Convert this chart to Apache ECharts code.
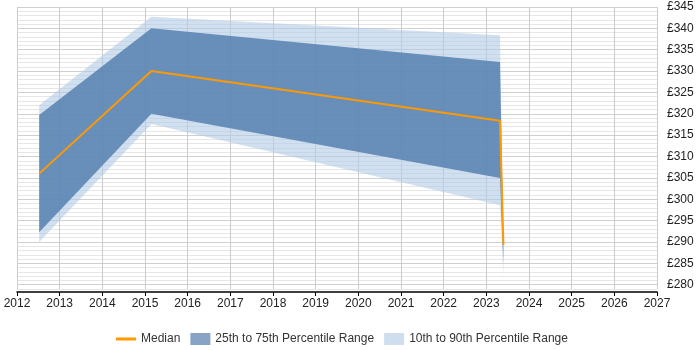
<!DOCTYPE html>
<html>
<head>
<meta charset="utf-8">
<script src="https://cdn.jsdelivr.net/npm/echarts@6/dist/echarts.min.js"></script>
<style>
html, body { margin: 0; padding: 0; background: #fff; }
#container { width: 700px; height: 350px; }
</style>
</head>
<body>
<div id="container"></div>
<script>
// dates as decimal years
var years = [2012.52, 2015.15, 2023.32, 2023.4];
var median = [306, 330, 318.4, 289.3];
var p25 = [292.3, 320, 305, 285];
var p75 = [319.7, 340, 332.1, 289.5];
var p10 = [290, 317.6, 298.6, 282];
var p90 = [322, 342.7, 338.4, 290];

function bandRows(lo, hi) {
    return years.map(function (x, i) { return [x, lo[i], hi[i]]; });
}

// one polygon per band, built from all rows through the axes
function bandRenderer(fill) {
    return function (params, api) {
        if (params.dataIndex !== 0) return;
        var top = [], bottom = [];
        for (var i = 0; i < years.length; i++) {
            var x = api.value(0, i), lo = api.value(1, i), hi = api.value(2, i);
            top.push(api.coord([x, hi]));
            bottom.unshift(api.coord([x, lo]));
        }
        return {
            type: 'polygon',
            shape: { points: top.concat(bottom) },
            style: { fill: fill }
        };
    };
}

var dom = document.getElementById("container");
var myChart = echarts.init(dom);

var option = {
    animation: false,
    grid: {
        left: 17,
        right: 43,
        top: 7,
        bottom: 61
    },
    legend: {
        left: 111,
        top: 328,
        itemGap: 10,
        itemWidth: 20,
        itemHeight: 12,
        textStyle: { fontFamily: 'Liberation Sans', fontSize: 12, color: '#333' },
        data: [
            { name: 'Median', icon: 'path://M0,0 L20,0 L20,3 L0,3 Z', itemStyle: { color: '#FF9900' } },
            { name: '25th to 75th Percentile Range', icon: 'rect', itemStyle: { color: '#87a4c6' } },
            { name: '10th to 90th Percentile Range', icon: 'rect', itemStyle: { color: '#cfdeee' } }
        ]
    },
    xAxis: {
        type: 'value',
        min: 2012,
        max: 2027,
        interval: 1,
        offset: 3,
        axisLine: { lineStyle: { color: '#000', width: 1.5 } },
        axisTick: { show: true, length: 4, lineStyle: { color: '#000' } },
        axisLabel: {
            fontFamily: 'Liberation Sans',
            fontSize: 12,
            color: '#222',
            margin: 6,
            formatter: function (v) { return String(v); }
        },
        splitLine: { show: true, lineStyle: { color: '#cccccc' } }
    },
    yAxis: {
        type: 'value',
        position: 'right',
        min: 279,
        max: 345,
        interval: 1,
        axisLine: { show: false },
        axisTick: { show: false },
        axisLabel: {
            fontFamily: 'Liberation Sans',
            fontSize: 12,
            color: '#222',
            margin: 10,
            formatter: function (v) {
                return v % 5 === 0 ? '£' + v : '';
            }
        },
        splitLine: {
            show: true,
            lineStyle: { color: ['#e6e6e6', '#cfcfcf', '#e6e6e6', '#e6e6e6', '#e6e6e6'] }
        }
    },
    series: [
        {
            name: '10th to 90th Percentile Range',
            type: 'custom',
            renderItem: bandRenderer('rgba(178,204,230,0.6)'),
            itemStyle: { color: '#cfdeee' },
            encode: { x: 0, y: [1, 2] },
            clip: true,
            z: 2,
            data: bandRows(p10, p90)
        },
        {
            name: '25th to 75th Percentile Range',
            type: 'custom',
            renderItem: bandRenderer('rgba(82,125,175,0.82)'),
            itemStyle: { color: '#87a4c6' },
            encode: { x: 0, y: [1, 2] },
            clip: true,
            z: 3,
            data: bandRows(p25, p75)
        },
        {
            name: 'Median',
            type: 'line',
            symbol: 'none',
            lineStyle: { color: '#FF9900', width: 2 },
            itemStyle: { color: '#FF9900' },
            z: 5,
            data: years.map(function (x, i) { return [x, median[i]]; })
        }
    ]
};

myChart.setOption(option);
</script>
</body>
</html>
